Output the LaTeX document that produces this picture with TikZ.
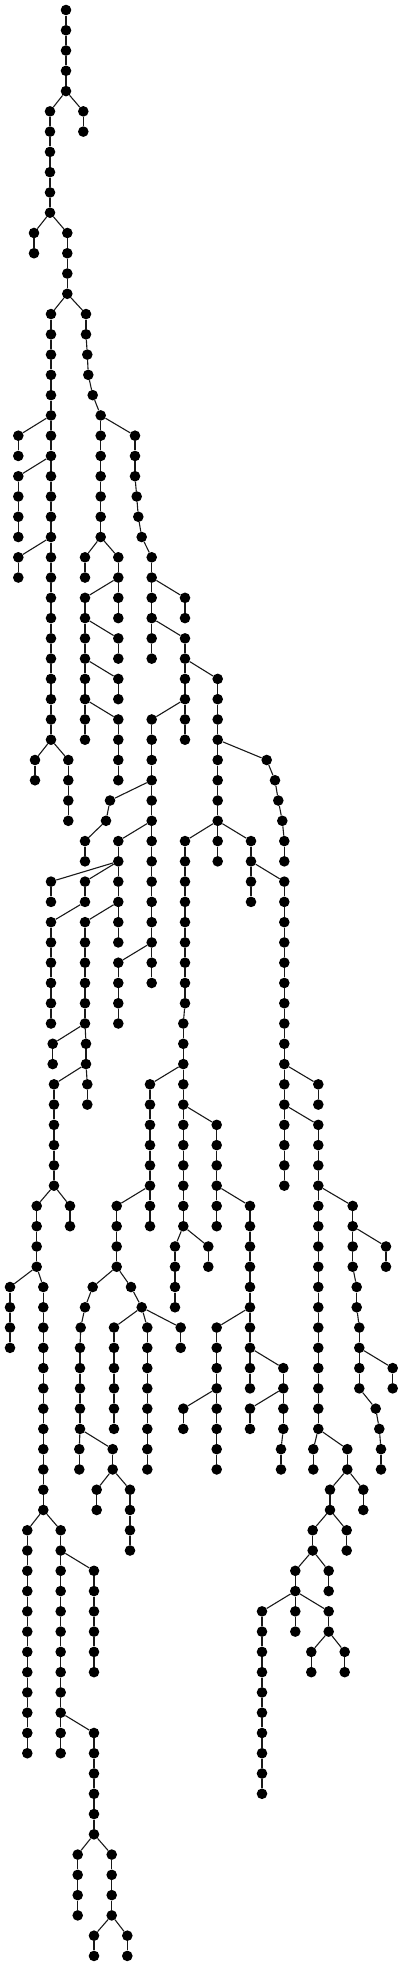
\documentclass[tikz,border=0pt]{standalone}
\begin{document}
\begin{tikzpicture}[x=1pt,y=-1pt,
  dot/.style={circle,fill=black,inner sep=0pt,minimum size=10.6pt},
  edge/.style={draw=black!90,line width=1.1pt}]
\useasboundingbox (0,0) rectangle (403,1966);
\newcommand\tn[4]{\node[dot] (#1) at (#2,{10+20.27*#3}) {}; \draw[edge] (#4) -- (#1);}
\newcommand\tchain[5]{%
  \tn{#1-#3}{#2}{#3}{#5}%
  \pgfmathtruncatemacro\tcs{#3+1}%
  \ifnum\tcs>#4\relax\else
    \foreach \k in {\tcs,...,#4}{%
      \pgfmathtruncatemacro\kp{\k-1}%
      \tn{#1-\k}{#2}{\k}{#1-\kp}}%
  \fi}
\node[dot] (A-0) at (66,10) {};
\tchain{A}{66}{1}{4}{A-0}
\tchain{B}{50}{5}{10}{A-4}
\tchain{C}{83.3}{5}{6}{A-4}
\tchain{D}{34}{11}{12}{B-10}
\tchain{E}{67.3}{11}{14}{B-10}
\tchain{F}{51}{15}{36}{E-14}
\tchain{G}{18.3}{21}{22}{F-20}
\tchain{H}{18.3}{23}{26}{F-22}
\tchain{I}{18.3}{27}{28}{F-26}
\tchain{J}{35}{37}{38}{F-36}
\tchain{K}{68.3}{37}{40}{F-36}
\tchain{L}{86}{15}{16}{E-14}
\tn{L-17}{87.3}{17}{L-16}
\tn{L-18}{88.3}{18}{L-17}
\tn{L-19}{92.7}{19}{L-18}
\tn{L-20}{100.7}{20}{L-19}
\tchain{L}{100.7}{21}{26}{L-20}
\tchain{M}{135}{21}{23}{L-20}
\tn{M-24}{136.7}{24}{M-23}
\tn{M-25}{138.3}{25}{M-24}
\tn{M-26}{141.7}{26}{M-25}
\tchain{M}{151.7}{27}{32}{M-26}
\tchain{N}{85}{27}{28}{L-26}
\tchain{O}{118.3}{27}{28}{L-26}
\tchain{P}{85}{29}{36}{O-28}
\tchain{Q}{118.3}{29}{30}{O-28}
\tchain{R}{118.3}{31}{32}{P-30}
\tchain{S}{118.3}{33}{34}{P-32}
\tchain{T}{118.3}{35}{38}{P-34}
\tchain{U}{185}{29}{30}{M-28}
\tchain{V}{185}{31}{36}{M-30}
\tchain{W}{151.7}{35}{48}{V-34}
\tn{X-39}{110}{39}{W-38}
\tn{X-40}{106}{40}{X-39}
\tchain{X}{85}{41}{42}{X-40}
\tchain{Y}{118.3}{41}{46}{W-40}
\tchain{Za}{51}{43}{44}{Y-42}
\tchain{Zb}{85}{43}{44}{Y-42}
\tchain{Zc}{51}{45}{50}{Zb-44}
\tchain{Zd}{85}{45}{50}{Y-44}
\tchain{Zd}{86}{51}{52}{Zd-50}
\tchain{Zd}{87.3}{53}{54}{Zd-52}
\tchain{Ze}{52.7}{51}{52}{Zd-50}
\tchain{Zf}{54}{53}{58}{Zd-52}
\tchain{Zg}{70}{59}{60}{Zf-58}
\tchain{Zh}{36.7}{59}{62}{Zf-58}
\tchain{Zi}{10}{63}{66}{Zh-62}
\tchain{Zj}{43.3}{63}{74}{Zh-62}
\tchain{Zk}{27.3}{75}{86}{Zj-74}
\tchain{Zl}{60.7}{75}{86}{Zj-74}
\tchain{Zm}{94}{77}{82}{Zl-76}
\tchain{Zn}{94}{85}{90}{Zl-84}
\tchain{Zo}{77.7}{91}{94}{Zn-90}
\tchain{Zp}{111.7}{91}{94}{Zn-90}
\tchain{Zq}{94}{95}{96}{Zp-94}
\tchain{Zr}{127.3}{95}{96}{Zp-94}
\tchain{AA}{118.3}{47}{50}{W-46}
\tchain{BB}{217.7}{33}{40}{V-32}
\tn{CC-37}{266.7}{37}{BB-36}
\tn{CC-38}{275}{38}{CC-37}
\tn{CC-39}{278.3}{39}{CC-38}
\tn{CC-40}{282.3}{40}{CC-39}
\tchain{CC}{284.3}{41}{42}{CC-40}
\tchain{DD}{185}{41}{49}{BB-40}
\tchain{DD}{183.3}{50}{60}{DD-49}
\tchain{EE}{217.7}{41}{42}{BB-40}
\tchain{FF}{251}{41}{44}{BB-40}
\tchain{GG}{284.3}{43}{58}{FF-42}
\tchain{HH}{318.3}{53}{54}{GG-52}
\tchain{II}{318.3}{55}{70}{GG-54}
\tchain{JJ}{352.7}{59}{62}{II-58}
\tchain{JJ}{356.7}{63}{64}{JJ-62}
\tchain{JJ}{359.3}{65}{68}{JJ-64}
\tn{JJ-69}{375.7}{69}{JJ-68}
\tn{JJ-70}{379.3}{70}{JJ-69}
\tchain{JJ}{381}{71}{72}{JJ-70}
\tchain{KK}{386}{61}{62}{JJ-60}
\tchain{LL}{392.7}{67}{68}{JJ-66}
\tchain{MM}{313.3}{71}{72}{II-70}
\tchain{NN}{347.3}{71}{72}{II-70}
\tchain{OO}{330}{73}{74}{NN-72}
\tchain{PP}{363.3}{73}{74}{NN-72}
\tchain{QQ}{346.7}{75}{76}{OO-74}
\tchain{RR}{312.7}{75}{76}{OO-74}
\tchain{SS}{328.7}{77}{78}{RR-76}
\tchain{TT}{295.3}{77}{80}{RR-76}
\tchain{UU}{262}{79}{88}{TT-78}
\tchain{VV}{328.7}{79}{80}{TT-78}
\tchain{WW}{311.3}{81}{82}{VV-80}
\tchain{XX}{344.7}{81}{82}{VV-80}
\tchain{YY}{150}{53}{60}{DD-52}
\tchain{ZZ}{116.7}{59}{62}{YY-58}
\tn{a1-63}{92.7}{63}{ZZ-62}
\tn{a1-64}{85}{64}{a1-63}
\tn{a1-65}{80.7}{65}{a1-64}
\tchain{a1}{80}{66}{70}{a1-65}
\tchain{a2}{79.3}{71}{72}{a1-70}
\tchain{a3}{112.7}{71}{72}{a1-70}
\tchain{a4}{96.7}{73}{74}{a3-72}
\tchain{a5}{130}{73}{76}{a3-72}
\tn{b1-63}{131}{63}{ZZ-62}
\tn{b1-64}{141.7}{64}{b1-63}
\tchain{b2}{114}{65}{70}{b1-64}
\tchain{b3}{147.3}{65}{72}{b1-64}
\tchain{b4}{180.7}{65}{66}{b1-64}
\tchain{c1}{216.7}{55}{60}{DD-54}
\tchain{c2}{250}{59}{68}{c1-58}
\tchain{c3}{216.7}{65}{72}{c2-64}
\tchain{c4}{183.3}{69}{70}{c3-68}
\tchain{c5}{283.3}{67}{70}{c2-66}
\tchain{c5}{281}{71}{72}{c5-70}
\tchain{c6}{250}{69}{70}{c5-68}
\tchain{d1}{175}{61}{64}{DD-60}
\tchain{d2}{208.3}{61}{62}{DD-60}
\end{tikzpicture}
\end{document}
